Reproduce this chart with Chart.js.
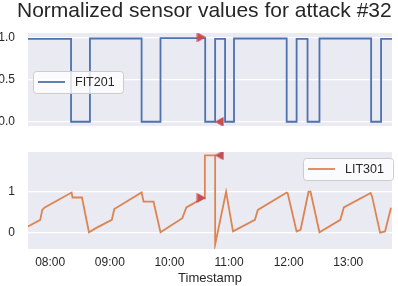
<!DOCTYPE html>
<html>
<head>
<meta charset="utf-8">
<title>Normalized sensor values for attack #32</title>
<script src="https://cdn.jsdelivr.net/npm/chart.js@4.4.1/dist/chart.umd.min.js"></script>
<style>
  html, body { margin: 0; padding: 0; background: #fff; }
  #wrap { position: relative; width: 398px; height: 286px; overflow: hidden; }
  canvas { position: absolute; left: 0; }
  #fit { top: 0; }
  #lit { top: 140px; }
  #title {
    position: absolute; left: 17px; top: -1px;
    font: 21px/21px "Liberation Sans", Arial, sans-serif;
    color: #262626; white-space: nowrap;
  }
</style>
</head>
<body>
<div id="wrap">
  <canvas id="fit" width="398" height="132"></canvas>
  <canvas id="lit" width="398" height="146"></canvas>
  <div id="title">Normalized sensor values for attack #32</div>
</div>
<script>
// x window and tick labels
const xStart = '07:37:40';
const xEnd = '13:44';
const timeTicks = ['08:00', '09:00', '10:00', '11:00', '12:00', '13:00'];

// FIT201 (step signal, each value holds from its time on)
const fitTimes = ['07:37:40', '08:21', '08:40', '09:32', '09:51', '10:36', '10:46', '10:56',
                  '11:05', '11:58', '12:08', '12:19', '12:31', '13:23', '13:33', '13:44'];
const fitValues = [0.98, 0, 0.985, 0, 0.99, 0, 0.98, 0,
                   0.985, 0, 0.98, 0, 0.985, 0, 0.98, 0.98];
const fitTicks = [0, 0.5, 1];

// LIT301
const litTimes = ['07:37:40', '07:50', '07:52', '07:54:30', '08:21:30', '08:22:30', '08:32', '08:39',
                  '08:46', '09:02', '09:04:30', '09:32', '09:34', '09:44', '09:51', '10:13',
                  '10:17', '10:23', '10:33', '10:35:40', '10:35:40', '10:46', '10:46', '10:57',
                  '11:04', '11:26', '11:29', '11:58', '11:59', '12:08', '12:12', '12:20',
                  '12:22', '12:31', '12:52', '12:55:30', '13:22:30', '13:24', '13:32', '13:37', '13:43'];
const litValues = [0.16, 0.32, 0.56, 0.62, 0.98, 0.86, 0.86, 0.02,
                   0.12, 0.32, 0.58, 0.98, 0.76, 0.76, 0.02, 0.36,
                   0.62, 0.70, 0.84, 0.84, 1.88, 1.88, -0.28, 1.0,
                   0.04, 0.32, 0.56, 0.98, 0.96, 0.04, 0.08, 1.0,
                   1.0, 0.02, 0.32, 0.62, 0.97, 0.88, 0.01, 0.04, 0.61];
const litTicks = [0, 1];

// attack start / end markers
const attackTimes = ['10:32:15', '10:50:05'];
const fitAttackValues = [1.0, 0.0];
const litAttackValues = [0.85, 1.88];

const FONT = '"Liberation Sans", Arial, sans-serif';
Chart.defaults.font.family = FONT;
Chart.defaults.font.size = 12;
Chart.defaults.color = '#262626';

function toMinutes(t) {
  const p = t.split(':').map(Number);
  return p[0] * 60 + p[1] + (p[2] || 0) / 60;
}

function points(times, values) {
  return times.map((t, i) => ({ x: toMinutes(t), y: values[i] }));
}

function triangle(dir) {
  const c = document.createElement('canvas');
  c.width = 10;
  c.height = 10;
  const g = c.getContext('2d');
  g.fillStyle = '#C44E52';
  g.beginPath();
  if (dir > 0) {
    g.moveTo(0.5, 0); g.lineTo(9.5, 5); g.lineTo(0.5, 10);
  } else {
    g.moveTo(9.5, 0); g.lineTo(0.5, 5); g.lineTo(9.5, 10);
  }
  g.closePath();
  g.fill();
  return c;
}
const markerStyles = [triangle(1), triangle(-1)];

const panelBackground = {
  id: 'panelBackground',
  beforeDraw(chart) {
    const { ctx, chartArea: a } = chart;
    ctx.save();
    ctx.fillStyle = '#EAEAF2';
    ctx.fillRect(a.left, a.top, a.width, a.height);
    ctx.restore();
  }
};

// matplotlib-like legend box at a fixed spot
const boxLegend = {
  id: 'boxLegend',
  afterDraw(chart, args, opts) {
    const ds = chart.data.datasets[0];
    const { ctx } = chart;
    const x = opts.left, y = opts.top, w = opts.width, h = opts.height;
    ctx.save();
    ctx.beginPath();
    ctx.roundRect(x + 0.5, y + 0.5, w, h, 3);
    ctx.fillStyle = 'rgba(255, 255, 255, 0.8)';
    ctx.fill();
    ctx.strokeStyle = '#cccccc';
    ctx.lineWidth = 1;
    ctx.stroke();
    const cy = y + h / 2;
    ctx.beginPath();
    ctx.moveTo(x + 5, cy);
    ctx.lineTo(x + 32, cy);
    ctx.strokeStyle = ds.borderColor;
    ctx.lineWidth = ds.borderWidth;
    ctx.stroke();
    ctx.fillStyle = '#262626';
    ctx.font = '12.5px ' + FONT;
    ctx.textBaseline = 'middle';
    ctx.fillText(ds.label, x + 42, cy + 0.5);
    ctx.restore();
  }
};

function yAxis(min, max, ticks, digits) {
  return {
    min: min,
    max: max,
    grid: { color: '#ffffff', lineWidth: 1.2, drawTicks: false },
    border: { display: false },
    ticks: {
      padding: 13,
      callback: (v) => v.toFixed(digits)
    },
    afterBuildTicks: (scale) => { scale.ticks = ticks.map(v => ({ value: v })); },
    afterFit: (scale) => {
      scale.width = 28;
      scale.paddingTop = 0;
      scale.paddingBottom = 0;
    }
  };
}

new Chart(document.getElementById('fit'), {
  type: 'line',
  data: {
    datasets: [
      {
        label: 'FIT201',
        data: points(fitTimes, fitValues),
        stepped: true,
        borderColor: '#4C72B0',
        borderWidth: 1.8,
        pointRadius: 0,
        order: 1
      },
      {
        label: 'attack',
        data: points(attackTimes, fitAttackValues),
        showLine: false,
        pointStyle: markerStyles,
        pointRadius: 5,
        clip: 0,
        order: 0
      }
    ]
  },
  options: {
    responsive: false,
    animation: false,
    layout: { padding: { top: 33, left: 0, right: 0, bottom: 0 } },
    plugins: {
      legend: { display: false },
      tooltip: { enabled: false },
      boxLegend: { left: 33, top: 71, width: 90, height: 22 }
    },
    scales: {
      x: {
        type: 'linear',
        display: false,
        min: toMinutes(xStart),
        max: toMinutes(xEnd)
      },
      y: yAxis(-0.05, 1.05, fitTicks, 1)
    }
  },
  plugins: [panelBackground, boxLegend]
});

new Chart(document.getElementById('lit'), {
  type: 'line',
  data: {
    datasets: [
      {
        label: 'LIT301',
        data: points(litTimes, litValues),
        borderColor: '#DD8452',
        borderWidth: 1.8,
        pointRadius: 0,
        tension: 0,
        order: 1
      },
      {
        label: 'attack',
        data: points(attackTimes, litAttackValues),
        showLine: false,
        pointStyle: markerStyles,
        pointRadius: 5,
        clip: 0,
        order: 0
      }
    ]
  },
  options: {
    responsive: false,
    animation: false,
    layout: { padding: { top: 12, left: 0, right: 0, bottom: 0 } },
    plugins: {
      legend: { display: false },
      tooltip: { enabled: false },
      boxLegend: { left: 303, top: 18, width: 90, height: 22 }
    },
    scales: {
      x: {
        type: 'linear',
        min: toMinutes(xStart),
        max: toMinutes(xEnd),
        grid: { display: false, drawTicks: false },
        border: { display: false },
        ticks: {
          padding: 6,
          maxRotation: 0,
          callback: (v) => timeTicks.find(t => toMinutes(t) === v) || ''
        },
        afterBuildTicks: (scale) => { scale.ticks = timeTicks.map(t => ({ value: toMinutes(t) })); },
        title: {
          display: true,
          text: 'Timestamp',
          font: { size: 13 },
          padding: { top: 0, bottom: 0 }
        },
        afterFit: (scale) => {
          scale.height = 37;
          scale.paddingLeft = 0;
          scale.paddingRight = 0;
        }
      },
      y: yAxis(-0.385, 1.96, litTicks, 0)
    }
  },
  plugins: [panelBackground, boxLegend]
});
</script>
</body>
</html>
